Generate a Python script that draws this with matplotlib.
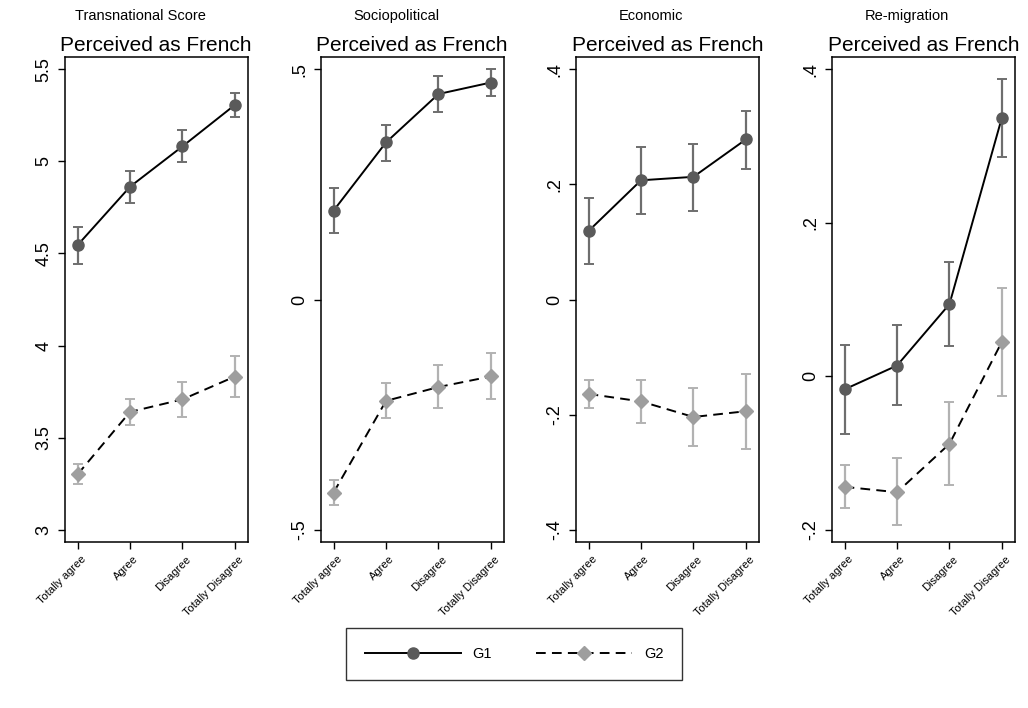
import numpy as np
import matplotlib
matplotlib.use("Agg")
import matplotlib.pyplot as plt
from matplotlib.lines import Line2D

plt.rcParams['font.family'] = ['Liberation Sans', 'DejaVu Sans']

categories = ["Totally agree", "Agree", "Disagree", "Totally Disagree"]
panel_names = ["Transnational Score", "Sociopolitical", "Economic", "Re-migration"]
sub_title = "Perceived as French"

# G1 : mean + 95% CI, one list per panel
g1_mean = [
  [4.545, 4.862, 5.081, 5.306],
  [0.193, 0.341, 0.446, 0.471],
  [0.119, 0.207, 0.213, 0.278],
  [-0.017, 0.014, 0.094, 0.337],
]
g1_lo = [
  [4.443, 4.771, 4.995, 5.240],
  [0.145, 0.300, 0.406, 0.441],
  [0.062, 0.149, 0.154, 0.227],
  [-0.075, -0.038, 0.039, 0.286],
]
g1_hi = [
  [4.646, 4.945, 5.169, 5.372],
  [0.241, 0.378, 0.485, 0.500],
  [0.176, 0.264, 0.270, 0.327],
  [0.041, 0.067, 0.149, 0.387],
]

# G2
g2_mean = [
  [3.301, 3.640, 3.708, 3.832],
  [-0.419, -0.220, -0.190, -0.167],
  [-0.164, -0.177, -0.204, -0.194],
  [-0.144, -0.151, -0.088, 0.045],
]
g2_lo = [
  [3.249, 3.568, 3.612, 3.720],
  [-0.447, -0.258, -0.235, -0.217],
  [-0.189, -0.214, -0.254, -0.260],
  [-0.172, -0.194, -0.142, -0.026],
]
g2_hi = [
  [3.357, 3.712, 3.804, 3.946],
  [-0.391, -0.181, -0.143, -0.116],
  [-0.139, -0.140, -0.153, -0.129],
  [-0.115, -0.107, -0.033, 0.115],
]

y_ticks = [
  [3, 3.5, 4, 4.5, 5, 5.5],
  [-0.5, 0, 0.5],
  [-0.4, -0.2, 0, 0.2, 0.4],
  [-0.2, 0, 0.2, 0.4],
]
y_ticklabels = [
  ["3", "3.5", "4", "4.5", "5", "5.5"],
  ["-.5", "0", ".5"],
  ["-.4", "-.2", "0", ".2", ".4"],
  ["-.2", "0", ".2", ".4"],
]

G1_MARK = "#5a5a5a"
G1_CI = "#6e6e6e"
G2_MARK = "#9e9e9e"
G2_CI = "#b2b2b2"
DASH = (0, (5, 3.2))

W, H = 1028, 708
fig = plt.figure(figsize=(W / 100, H / 100), dpi=100)
fig.patch.set_facecolor("white")

lefts = [65, 321, 576, 832]
ax_w = 182.5
ax_top, ax_bot = 56.7, 542.3

x = np.arange(1, 5)

for i in range(4):
  ax = fig.add_axes([lefts[i] / W, (H - ax_bot) / H, ax_w / W, (ax_bot - ax_top) / H])

  m1, m2 = np.array(g1_mean[i]), np.array(g2_mean[i])
  e1 = [m1 - np.array(g1_lo[i]), np.array(g1_hi[i]) - m1]
  e2 = [m2 - np.array(g2_lo[i]), np.array(g2_hi[i]) - m2]

  ax.errorbar(x, m1, yerr=e1, fmt="none", ecolor=G1_CI, elinewidth=1.6,
              capsize=3.3, capthick=1.4, zorder=2)
  ax.errorbar(x, m2, yerr=e2, fmt="none", ecolor=G2_CI, elinewidth=1.6,
              capsize=3.3, capthick=1.4, zorder=2)
  ax.plot(x, m1, color="black", lw=1.4, zorder=3)
  ax.plot(x, m2, color="black", lw=1.4, ls=DASH, zorder=3)
  ax.plot(x, m1, "o", ms=8, color=G1_MARK, mec=G1_MARK, zorder=4)
  ax.plot(x, m2, "D", ms=7.2, color=G2_MARK, mec=G2_MARK, zorder=4)

  t = y_ticks[i]
  pad = (t[-1] - t[0]) * 0.027
  ax.set_ylim(t[0] - pad, t[-1] + pad)
  ax.set_xlim(0.76, 4.24)
  ax.set_yticks(t)
  ax.set_yticklabels(y_ticklabels[i], rotation=90, va="center", fontsize=13)
  ax.set_xticks(x)
  ax.set_xticklabels([])
  # rotated category labels, top-right corner hooked just below each tick
  for xi, cat in zip(x, categories):
    ax.annotate(cat, xy=(xi, 0), xycoords=ax.get_xaxis_transform(),
                xytext=(3, -12), textcoords="offset pixels", rotation=45,
                ha="right", va="top", rotation_mode="anchor", fontsize=8,
                annotation_clip=False)
  ax.tick_params(axis="both", length=5, width=1, color="black", pad=4)
  for s in ax.spines.values():
    s.set_linewidth(1.1)

  ax.set_title(sub_title, fontsize=15, pad=4)
  cx = lefts[i] + ax_w / 2 - 16
  fig.text(cx / W, 1 - 16 / H, panel_names[i], fontsize=10.5, ha="center", va="center")

# legend
handles = [
  Line2D([0], [0], color="black", lw=1.4, marker="o", ms=8, mfc=G1_MARK, mec=G1_MARK),
  Line2D([0], [0], color="black", lw=1.4, ls=DASH, marker="D", ms=7.2, mfc=G2_MARK, mec=G2_MARK),
]
leg = fig.legend(handles, ["G1", "G2"], loc="center", bbox_to_anchor=(0.5, 1 - 654 / H),
                 ncol=2, numpoints=1, handlelength=6.6, columnspacing=3.0, handletextpad=0.8,
                 fontsize=10.5, fancybox=False, edgecolor="black", borderpad=1.3,
                 borderaxespad=0)
leg.get_frame().set_linewidth(1.0)

fig.savefig("out.png", dpi=100, facecolor="white")
